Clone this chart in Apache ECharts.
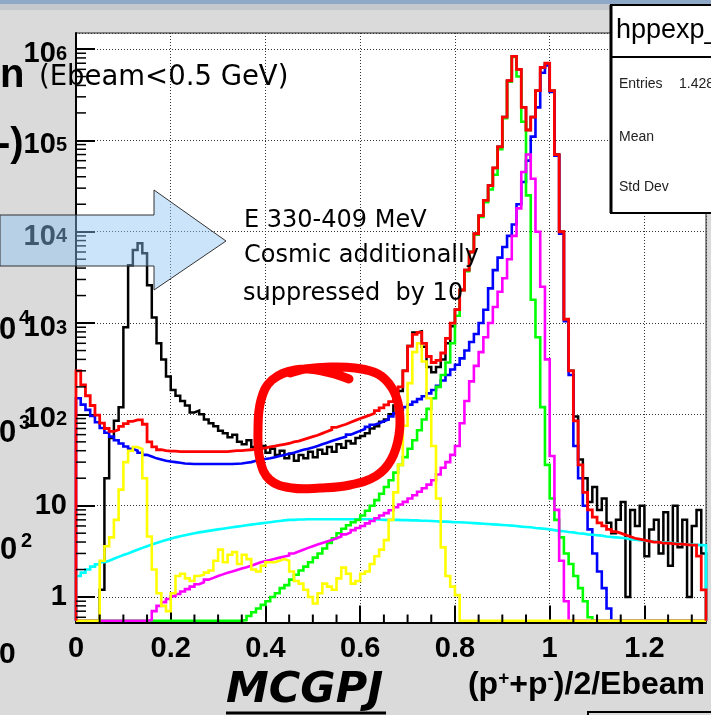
<!DOCTYPE html>
<html><head><meta charset="utf-8">
<script src="https://cdn.jsdelivr.net/npm/echarts@6/dist/echarts.min.js"></script>
<style>html,body{margin:0;padding:0;background:#dadada;overflow:hidden}#c{width:711px;height:715px}</style>
</head><body><div id="c"></div>
<script>
// ---- axis definition ----
const BIN_WIDTH = 0.01;          // histogram bin width in (p+ + p-)/2/Ebeam
const X_MIN = 0, X_MAX = 1.33;
const Y_MIN = 0.526, Y_MAX = 1.5e6;
const X_TICK_VALUES = [0, 0.2, 0.4, 0.6, 0.8, 1, 1.2];
const X_TICK_LABELS = ['0', '0.2', '0.4', '0.6', '0.8', '1', '1.2'];
const Y_TICK_VALUES = [1, 10, 100, 1000, 1e4, 1e5, 1e6];
const Y_TICK_BASE = ['1', '10', '10', '10', '10', '10', '10'];
const Y_TICK_EXP = ['', '', '2', '3', '4', '5', '6'];

// ---- histogram contents, one value per bin (bin low edge = index*BIN_WIDTH) ----
const dataHist = [
  0,0,0,0,0,1.2,20,55,85,120,
  900,4300,6300,7500,5800,2600,1150,600,400,260,
  185,160,140,125,105,110,100,88,80,74,
  66,62,56,60,50,47,52,44,41,45,
  38,42,36,40,33,37,31,36,33,39,
  34,41,37,44,39,47,43,51,48,55,
  58,62,70,74,83,88,100,125,180,300,
  560,790,810,550,330,290,330,400,600,920,
  1400,2300,3800,6000,9500,15000,22000,32000,50000,85000,
  180000,450000,830000,600000,230000,130000,180000,350000,630000,700000,
  350000,70000,10000,1100,300,95,32,20,11,16,
  9,12,6.5,5,7,11,1.0,9,6,10,
  2.8,5.5,7,3,8.5,2.2,10,3.5,7,1.0,
  6,9,3
];
const totalFit = [
  300,210,160,125,98,80,70,65,68,74,
  79,84,87,87,78,50,44,41,40,39.5,
  39.5,39,39,39,39,39,39,39,39,39,
  39,39,39.5,40,40,40.5,41,41.5,42,43,
  44,45,46,47,48,50,51,53,55,57,
  59,62,65,68,72,75,78,82,86,90,
  94,98,103,110,118,127,138,155,200,300,
  560,750,790,600,430,370,390,470,680,1000,
  1400,2300,3800,6000,9500,15000,22000,32000,50000,85000,
  180000,450000,830000,600000,230000,130000,180000,350000,630000,700000,
  350000,70000,10000,1100,300,85,28,14,9,7.5,
  6.5,6,5.5,5.2,5,4.8,4.6,4.4,4.3,4.2,
  4.1,4,4,3.9,3.9,3.85,3.8,3.8,3.75,3.7,
  3.7,2.8,1.2
];
const blueComp = [
  150,128,112,96,82,71,63,57,52,48,
  44.5,42,40,38,36,34.5,33,32,31,30.5,
  30,29.5,29,28.8,28.6,28.6,28.6,28.6,28.6,28.6,
  28.6,28.6,28.6,28.8,29,29.5,30,31,32,32.5,
  33,34,35,36,37,38,39.5,41,42,43.5,
  45,47,49,51,53,55,57,60,63,66,
  69,73,77,80,84,88,95,103,112,120,
  128,137,147,158,170,185,205,235,270,310,
  350,410,500,620,760,1000,1400,2400,3800,5200,
  6800,9000,12000,20000,35000,60000,110000,230000,550000,660000,
  340000,68000,9500,1050,270,45,20,10,5.5,3.0,
  1.9,1.25,0.75,0,0,0,0,0,0,0,
  0,0,0,0,0,0,0,0,0,0,
  0,0,0
];
const greenComp = [
  0,0,0,0,0,0,0,0,0,0,
  0,0,0,0,0,0,0,0,0,0,
  0,0,0,0,0,0,0,0,0,0,
  0,0,0,0,0,0.56,0.62,0.68,0.75,0.82,
  0.9,1.0,1.1,1.25,1.35,1.55,1.75,1.95,2.15,2.4,
  2.7,3.0,3.4,3.9,4.4,5.0,5.6,6.1,6.6,7.0,
  7.8,8.8,10,11.5,13.5,16,19,23,28,34,
  42,52,67,88,115,150,200,270,370,600,
  1200,2300,3700,6000,9300,14500,21000,29000,42000,80000,
  175000,440000,820000,500000,160000,25000,1800,700,120,28,
  12,7,4.5,3,2.3,1.7,1.25,0.9,0.6,0,
  0,0,0,0,0,0,0,0,0,0,
  0,0,0,0,0,0,0,0,0,0,
  0,0,0
];
const magentaComp = [
  0,0,0,0,0,0,0,0,0,0,
  0,0,0,0,0,0.56,0.7,0.8,0.88,0.95,
  1.02,1.08,1.15,1.22,1.3,1.38,1.45,1.55,1.62,1.7,
  1.77,1.84,1.9,1.98,2.05,2.12,2.2,2.3,2.4,2.48,
  2.55,2.62,2.7,2.78,2.85,3.0,3.15,3.3,3.45,3.6,
  3.75,3.9,4.05,4.2,4.4,4.6,4.85,5.1,5.4,5.7,
  6.0,6.4,6.8,7.3,7.8,8.3,8.9,9.6,10.3,11,
  12,13,14.2,15.5,17,19,22,26,30,36,
  45,80,140,230,340,480,700,1000,1500,2200,
  3100,5000,9000,18000,45000,70000,38000,10000,2500,400,
  35,9,2.5,0.9,0,0,0,0,0,0,
  0,0,0,0,0,0,0,0,0,0,
  0,0,0,0,0,0,0,0,0,0,
  0,0,0
];
const yellowComp = [
  0,0,0,0,0,2.5,3.6,4.5,7,15,
  30,40,44,42,20,4.6,2.0,1.1,0.8,0.7,
  1.1,1.7,1.8,1.6,1.5,1.7,1.75,1.85,1.95,2.5,
  3.3,2.4,2.9,3.1,2.3,2.9,2.6,2.0,1.9,2.2,
  2.4,2.4,2.5,2.6,2.5,1.9,1.5,1.4,1.2,1.0,
  0.85,1.1,1.4,1.3,1.2,1.6,2.1,1.8,1.4,1.5,
  1.8,1.9,2.3,2.8,3.3,4.2,7,14,28,75,
  220,480,600,380,150,45,12,3.5,1.7,1.3,
  1.05,0,0,0,0,0,0,0,0,0,
  0,0,0,0,0,0,0,0,0,0,
  0,0,0,0,0,0,0,0,0,0,
  0,0,0,0,0,0,0,0,0,0,
  0,0,0,0,0,0,0,0,0,0,
  0,0,0
];
const cyanComp = [
  1.7,1.85,2.0,2.15,2.28,2.4,2.5,2.62,2.75,2.88,
  3.0,3.15,3.3,3.45,3.6,3.75,3.9,4.05,4.2,4.35,
  4.5,4.62,4.75,4.88,5.0,5.1,5.2,5.3,5.4,5.5,
  5.6,5.7,5.8,5.9,6.0,6.1,6.2,6.3,6.4,6.5,
  6.6,6.7,6.8,6.9,7.0,7.0,7.05,7.05,7.1,7.1,
  7.1,7.1,7.1,7.1,7.1,7.1,7.1,7.1,7.1,7.1,
  7.1,7.1,7.05,7.05,7.0,7.0,7.0,7.0,6.95,6.95,
  6.9,6.9,6.85,6.85,6.8,6.75,6.7,6.7,6.65,6.6,
  6.6,6.55,6.5,6.45,6.4,6.35,6.3,6.25,6.2,6.15,
  6.1,6.05,6.0,5.9,5.85,5.8,5.7,5.65,5.6,5.5,
  5.4,5.3,5.25,5.15,5.1,5.0,4.95,4.85,4.8,4.75,
  4.7,4.6,4.55,4.5,4.45,4.4,4.3,4.25,4.2,4.15,
  4.1,4.05,4.0,3.98,3.95,3.9,3.85,3.8,3.78,3.75,
  3.72,3.7,3.68
];

// empty bins are drawn on the floor of the log frame, as ROOT does
const FLOOR = 0.55;
function toSteps(vals) {
  const pts = [[X_MIN, FLOOR]];
  vals.forEach((v, i) => pts.push([+(i * BIN_WIDTH).toFixed(4), v > 0 ? v : FLOOR]));
  pts.push([+(vals.length * BIN_WIDTH).toFixed(4), FLOOR]);
  return pts;
}
function histSeries(name, vals, color, width) {
  return {
    name, type: 'line', step: 'end', data: toSteps(vals), showSymbol: false, symbol: 'none',
    lineStyle: { color, width, join: 'miter' }, clip: true, animation: false, silent: true
  };
}

// minor tick positions (axis decoration)
const minorTicks = [];
for (let k = -1; k <= 6; k++) for (let d = 2; d <= 9; d++) {
  const v = d * Math.pow(10, k);
  if (v > Y_MIN && v < Y_MAX) minorTicks.push([X_MIN, v, 0]);
}
for (let i = 1; i * 0.05 < X_MAX; i++) if (i % 4 !== 0) minorTicks.push([+(i * 0.05).toFixed(3), Y_MIN, 1]);

const FONT = 'Liberation Sans';
const chart = echarts.init(document.getElementById('c'), null, { renderer: 'canvas' });
chart.setOption({
  animation: false,
  backgroundColor: '#dadada',
  grid: { left: 76, right: 5, top: 33, bottom: 92.5, show: true, backgroundColor: '#ffffff',
    borderColor: '#222', borderWidth: 1, containLabel: false, outerBoundsMode: 'none' },
  xAxis: {
    type: 'value', min: X_MIN, max: X_MAX, interval: 0.2,
    axisLine: { show: true, onZero: false, lineStyle: { color: '#000', width: 2 } },
    axisTick: { show: true, inside: true, length: 17, lineStyle: { color: '#000', width: 2 } },
    axisLabel: { show: true, margin: 12, showMaxLabel: false, color: '#000', fontFamily: FONT, fontWeight: 'bold', fontSize: 29,
      formatter: v => { const i = X_TICK_VALUES.findIndex(t => Math.abs(t - v) < 1e-6); return i < 0 ? '' : X_TICK_LABELS[i]; } },
    splitLine: { show: true, lineStyle: { color: '#333', width: 1, type: [1, 2] } }
  },
  yAxis: {
    type: 'log', logBase: 10, min: Y_MIN, max: Y_MAX,
    axisLine: { show: true, onZero: false, lineStyle: { color: '#000', width: 2 } },
    axisTick: { show: true, inside: true, length: 19, lineStyle: { color: '#000', width: 2 } },
    axisLabel: { show: true, margin: 9, showMinLabel: false, showMaxLabel: false, color: '#000',
      formatter: v => {
        const i = Y_TICK_VALUES.findIndex(t => Math.abs(Math.log10(t) - Math.log10(v)) < 1e-6);
        if (i < 0) return '';
        return Y_TICK_EXP[i] ? '{b|' + Y_TICK_BASE[i] + '}{s|' + Y_TICK_EXP[i] + '}' : '{p|' + Y_TICK_BASE[i] + '}';
      },
      rich: {
        p: { fontFamily: FONT, fontWeight: 'bold', fontSize: 29, lineHeight: 30, color: '#000' },
        b: { fontFamily: FONT, fontWeight: 'bold', fontSize: 29, lineHeight: 30, color: '#000', padding: [10, 0, 0, 0] },
        s: { fontFamily: FONT, fontWeight: 'bold', fontSize: 20, lineHeight: 14, color: '#000', verticalAlign: 'top', padding: [10, 0, 0, 0] }
      } },
    splitLine: { show: true, lineStyle: { color: '#333', width: 1, type: [1, 2] } }
  },
  series: [
    histSeries('data', dataHist, '#000000', 2.5),
    histSeries('blue', blueComp, '#0000ff', 2.6),
    histSeries('cyan', cyanComp, '#00ffff', 2.6),
    histSeries('green', greenComp, '#00ff00', 2.6),
    histSeries('magenta', magentaComp, '#ff00ff', 2.6),
    histSeries('yellow', yellowComp, '#ffff00', 2.6),
    histSeries('total', totalFit, '#ff0000', 2.8),
    {
      type: 'custom', data: minorTicks, encode: { x: 0, y: 1 }, silent: true, animation: false, clip: false, z: 5,
      renderItem: (params, api) => {
        const kind = api.value(2);
        const p = api.coord([api.value(0), api.value(1)]);
        if (kind === 0) return { type: 'line', shape: { x1: p[0], y1: p[1], x2: p[0] + 10, y2: p[1] }, style: { stroke: '#000', lineWidth: 1.5 } };
        return { type: 'line', shape: { x1: p[0], y1: p[1], x2: p[0], y2: p[1] - 8 }, style: { stroke: '#000', lineWidth: 2 } };
      }
    }
  ],
  graphic: [
    // slide top strip
    { type: 'rect', z: 100, shape: { x: 0, y: 0, width: 711, height: 4 }, style: { fill: '#8ea8c8' } },
    { type: 'rect', z: 100, shape: { x: 0, y: 4, width: 711, height: 6 }, style: { fill: '#c4c8cc' } },
    // leftover fragments of the slide
    { type: 'text', z: 100, x: 0, y: 76, style: { text: 'n', font: 'bold 40px "Liberation Sans"', fill: '#000', textVerticalAlign: 'middle' } },
    { type: 'text', z: 100, x: -3, y: 145, style: { text: '-)', font: 'bold 40px "Liberation Sans"', fill: '#000', textVerticalAlign: 'middle' } },
    { type: 'text', z: 100, x: 39, y: 78, style: { text: '(Ebeam<0.5 GeV)', font: '27.5px "DejaVu Sans"', fill: '#000', textVerticalAlign: 'middle' } },
    { type: 'text', z: 100, x: -1, y: 330, style: { text: '0', font: 'bold 31px "Liberation Sans"', fill: '#000', textVerticalAlign: 'middle' } },
    { type: 'text', z: 100, x: 19, y: 318, style: { text: '4', font: 'bold 20px "Liberation Sans"', fill: '#000', textVerticalAlign: 'middle' } },
    { type: 'text', z: 100, x: -1, y: 433, style: { text: '0', font: 'bold 31px "Liberation Sans"', fill: '#000', textVerticalAlign: 'middle' } },
    { type: 'text', z: 100, x: 19, y: 423, style: { text: '3', font: 'bold 20px "Liberation Sans"', fill: '#000', textVerticalAlign: 'middle' } },
    { type: 'text', z: 100, x: 0, y: 550, style: { text: '0', font: 'bold 31px "Liberation Sans"', fill: '#000', textVerticalAlign: 'middle' } },
    { type: 'text', z: 100, x: 21, y: 541, style: { text: '2', font: 'bold 20px "Liberation Sans"', fill: '#000', textVerticalAlign: 'middle' } },
    { type: 'text', z: 100, x: -1, y: 655, style: { text: '0', font: 'bold 30px "Liberation Sans"', fill: '#000', textVerticalAlign: 'middle' } },
    // blue arrow (semi transparent)
    { type: 'polygon', z: 110, shape: { points: [[0, 215], [154, 215], [154, 190], [226, 241], [154, 290], [154, 266], [0, 266]] },
      style: { fill: 'rgba(140,195,245,0.45)', stroke: '#333', lineWidth: 1 } },
    // annotation
    { type: 'text', z: 100, x: 244, y: 221, style: { text: 'E 330-409 MeV', font: '24px "DejaVu Sans"', fill: '#000', textVerticalAlign: 'middle' } },
    { type: 'text', z: 100, x: 244, y: 256, style: { text: 'Cosmic additionally', font: '24px "DejaVu Sans"', fill: '#000', textVerticalAlign: 'middle' } },
    { type: 'text', z: 100, x: 243, y: 294, style: { text: 'suppressed  by 10', font: '24px "DejaVu Sans"', fill: '#000', textVerticalAlign: 'middle' } },
    // hand drawn red loop
    { type: 'polyline', z: 120, shape: { smooth: 0.4, points: [[349,379],[322,371],[295,370],[272,380],[261,400],[258,430],[260,460],[270,480],[292,488],[320,488],[350,485],[376,476],[391,460],[399,435],[399,408],[392,388],[378,374],[355,368],[330,367],[305,369],[290,373]] },
      style: { fill: null, stroke: '#ff0000', lineWidth: 9, lineCap: 'round', lineJoin: 'round' } },
    // stats box
    { type: 'rect', z: 130, shape: { x: 611, y: 5, width: 110, height: 208 }, style: { fill: '#ffffff', stroke: '#000', lineWidth: 2 } },
    { type: 'line', z: 131, shape: { x1: 611, y1: 5, x2: 611, y2: 213 }, style: { stroke: '#000', lineWidth: 3 } },
    { type: 'line', z: 131, shape: { x1: 611, y1: 57, x2: 711, y2: 57 }, style: { stroke: '#000', lineWidth: 2 } },
    { type: 'text', z: 131, x: 616, y: 31, style: { text: 'hppexp_', font: '27px "Liberation Sans"', fill: '#000', textVerticalAlign: 'middle' } },
    { type: 'text', z: 131, x: 619, y: 84, style: { text: 'Entries', font: '14px "Liberation Sans"', fill: '#222', textVerticalAlign: 'middle' } },
    { type: 'text', z: 131, x: 679, y: 84, style: { text: '1.428', font: '14px "Liberation Sans"', fill: '#222', textVerticalAlign: 'middle' } },
    { type: 'text', z: 131, x: 619, y: 137, style: { text: 'Mean', font: '14px "Liberation Sans"', fill: '#222', textVerticalAlign: 'middle' } },
    { type: 'text', z: 131, x: 619, y: 187, style: { text: 'Std Dev', font: '14px "Liberation Sans"', fill: '#222', textVerticalAlign: 'middle' } },
    // x axis title
    { type: 'text', z: 100, x: 705, y: 685, style: {
        text: '(p{s|+}+p{s|-})/2/Ebeam', textAlign: 'right', textVerticalAlign: 'middle',
        font: 'bold 32px "Liberation Sans"', fill: '#000',
        rich: { s: { font: 'bold 19px "Liberation Sans"', fill: '#000', verticalAlign: 'top', lineHeight: 15 } } } },
    // MCGPJ
    { type: 'text', z: 100, x: 226, y: 691, style: { text: 'MCGPJ', font: 'italic bold 43px "DejaVu Sans"', fill: '#000', textVerticalAlign: 'middle' } },
    { type: 'line', z: 100, shape: { x1: 226, y1: 713, x2: 386, y2: 713 }, style: { stroke: '#000', lineWidth: 3 } },
    { type: 'rect', z: 100, shape: { x: 588, y: 712, width: 130, height: 10 }, style: { fill: 'none', stroke: '#000', lineWidth: 2 } }
  ]
});
</script></body></html>
